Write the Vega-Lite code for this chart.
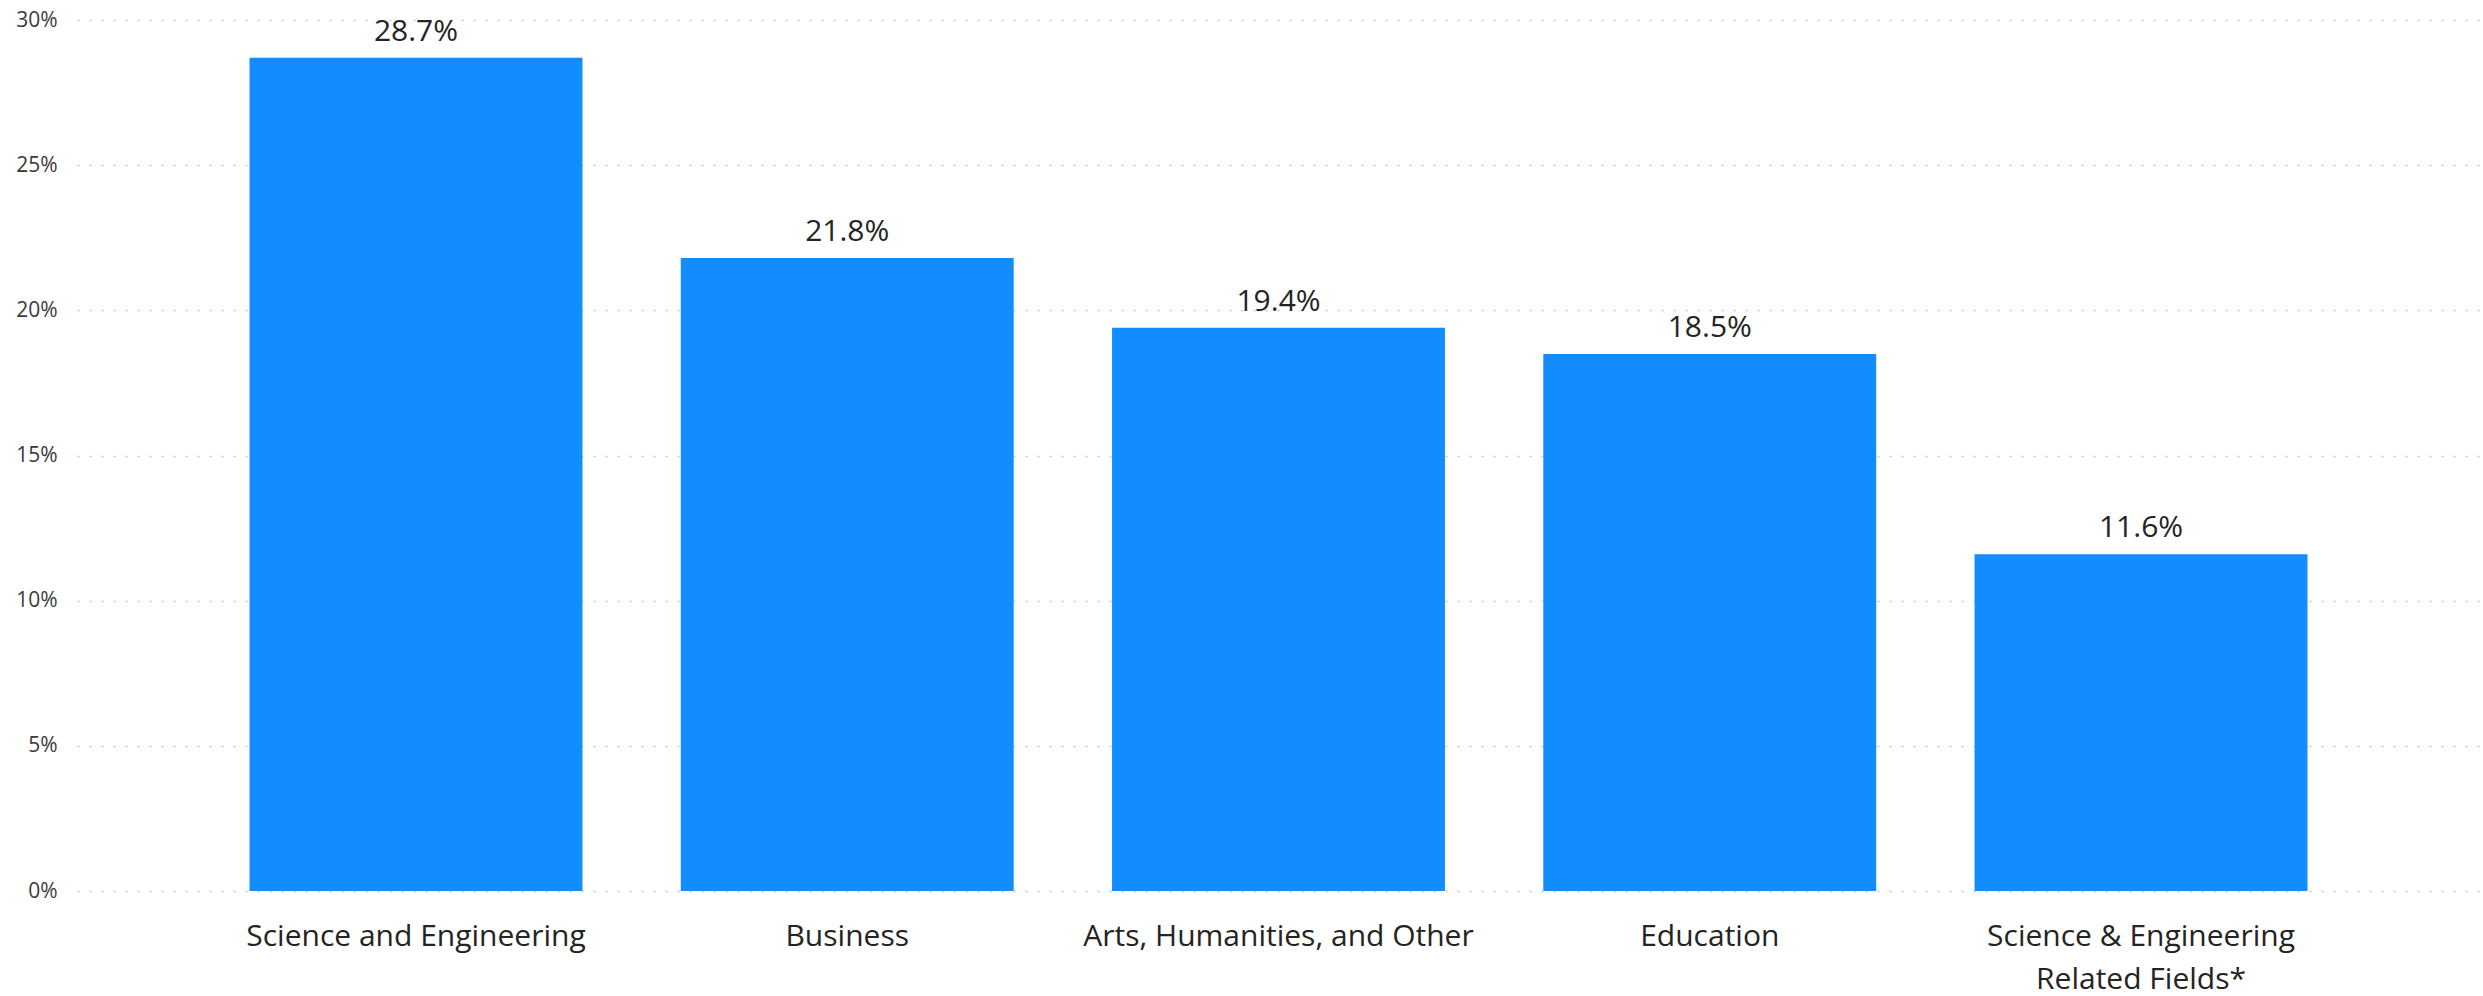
{
  "$schema": "https://vega.github.io/schema/vega-lite/v6.json",
  "width": 2403,
  "height": 871,
  "autosize": {"type": "none"},
  "padding": {"left": 77, "top": 20, "right": 3, "bottom": 105},
  "background": "white",
  "config": {
    "view": {"stroke": null},
    "font": "Open Sans"
  },
  "data": {
    "values": [
      {"field": "Science and Engineering", "share": 0.287},
      {"field": "Business", "share": 0.218},
      {"field": "Arts, Humanities, and Other", "share": 0.194},
      {"field": "Education", "share": 0.185},
      {"field": "Science & Engineering|Related Fields*", "share": 0.116}
    ]
  },
  "encoding": {
    "x": {
      "field": "field",
      "type": "nominal",
      "sort": null,
      "scale": {"paddingInner": 0.228, "paddingOuter": 0.4},
      "axis": {
        "title": null,
        "labelAngle": 0,
        "domain": false,
        "ticks": false,
        "labelFontSize": 30,
        "labelColor": "#252423",
        "labelPadding": 30,
        "labelLineHeight": 43,
        "labelLimit": 0,
        "labelExpr": "split(datum.label, '|')"
      }
    },
    "y": {
      "field": "share",
      "type": "quantitative",
      "scale": {"domain": [0, 0.3], "nice": false},
      "axis": {
        "title": null,
        "values": [0, 0.05, 0.1, 0.15, 0.2, 0.25, 0.3],
        "format": ".0%",
        "domain": false,
        "ticks": false,
        "labelFontSize": 21,
        "labelColor": "#3B3A39",
        "labelPadding": 20,
        "gridColor": "#C8C6C4",
        "gridDash": [2, 10],
        "gridWidth": 1.5
      }
    }
  },
  "layer": [
    {"mark": {"type": "bar", "color": "#118DFF"}},
    {
      "mark": {"type": "text", "baseline": "alphabetic", "dy": -17, "fontSize": 30, "color": "#252423"},
      "encoding": {"text": {"field": "share", "type": "quantitative", "format": ".1%"}}
    }
  ]
}
